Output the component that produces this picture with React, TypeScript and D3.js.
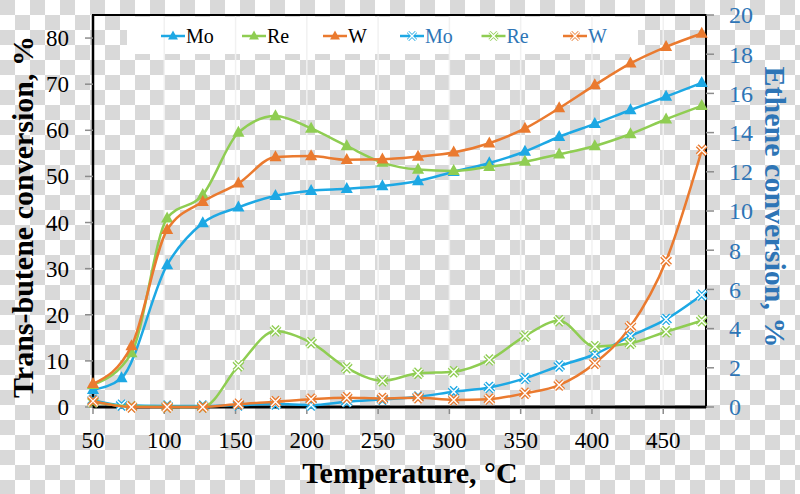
import * as d3 from "d3";

// temperatures (°C); Mo was sampled at 70 instead of 77
const temps = [50, 77, 102, 127, 152, 178, 203, 228, 253, 278, 303, 328, 353, 377, 402, 427, 452, 477];
const moTemps = [50, 70, 102, 127, 152, 178, 203, 228, 253, 278, 303, 328, 353, 377, 402, 427, 452, 477];

// trans-butene conversion, % (left axis)
const moButene = [3.7, 6.3, 30.8, 39.9, 43.3, 45.8, 46.9, 47.3, 47.9, 49.0, 51.0, 52.9, 55.4, 58.6, 61.4, 64.4, 67.3, 70.3];
const reButene = [4.8, 11.7, 40.9, 46.0, 59.5, 63.1, 60.4, 56.6, 53.0, 51.5, 51.2, 52.1, 53.2, 54.8, 56.6, 59.2, 62.4, 65.3];
const wButene = [5.0, 13.2, 38.4, 44.5, 48.5, 54.2, 54.4, 53.6, 53.7, 54.3, 55.2, 57.2, 60.4, 64.8, 69.8, 74.5, 78.1, 81.0];

// ethene conversion, % (right axis)
const moEthene = [0.35, 0.1, 0.05, 0.05, 0.1, 0.15, 0.1, 0.27, 0.39, 0.52, 0.78, 1.0, 1.46, 2.09, 2.69, 3.62, 4.47, 5.71];
const reEthene = [0.25, 0.02, 0, 0, 2.1, 3.88, 3.28, 2.0, 1.34, 1.72, 1.8, 2.4, 3.62, 4.4, 3.08, 3.25, 3.84, 4.4];
const wEthene = [0.3, 0, 0, 0, 0.15, 0.27, 0.4, 0.47, 0.44, 0.47, 0.36, 0.4, 0.7, 1.12, 2.23, 4.1, 7.46, 13.1];

const xTicks = [50, 100, 150, 200, 250, 300, 350, 400, 450];
const catalysts = ["Mo", "Re", "W"];

const BLUE = "#1DA8E4";
const GREEN = "#8FCD52";
const ORANGE = "#EA7A2F";
const AXIS_BLUE = "#2E75B6";
const FONT = "Liberation Serif, DejaVu Serif, serif";

const width = 800;
const height = 494;
const m = { left: 93, right: 706, top: 15, bottom: 407 };

type Pt = [number, number];

const triangle = (s: number) => `M0,${-s * 0.62}L${s * 0.55},${s * 0.38}L${-s * 0.55},${s * 0.38}Z`;
const cross = (s: number) => `M${-s},${-s}L${s},${s}M${-s},${s}L${s},${-s}`;

export default function App() {
  const x = d3.scaleLinear().domain([50, 480]).range([m.left, m.right]);
  const yL = d3.scaleLinear().domain([0, 85]).range([m.bottom, m.top]);
  const yR = d3.scaleLinear().domain([0, 20]).range([m.bottom, m.top]);

  const line = d3.line<Pt>().x((d) => d[0]).y((d) => d[1]).curve(d3.curveMonotoneX);

  const butene = [
    { name: "Mo", color: BLUE, t: moTemps, v: moButene },
    { name: "Re", color: GREEN, t: temps, v: reButene },
    { name: "W", color: ORANGE, t: temps, v: wButene },
  ].map((s) => ({ ...s, pts: s.v.map((v, i) => [x(s.t[i]), yL(v)] as Pt) }));

  const ethene = [
    { name: "Mo", color: BLUE, t: moTemps, v: moEthene },
    { name: "Re", color: GREEN, t: temps, v: reEthene },
    { name: "W", color: ORANGE, t: temps, v: wEthene },
  ].map((s) => ({ ...s, pts: s.v.map((v, i) => [x(s.t[i]), yR(v)] as Pt) }));

  const colorOf = d3.scaleOrdinal<string>().domain(catalysts).range([BLUE, GREEN, ORANGE]);

  // legend positions
  const legA = d3.scalePoint<string>().domain(catalysts).range([173, 335]);
  const legB = d3.scalePoint<string>().domain(catalysts).range([412, 575]);
  const legY = 36;

  return (
    <svg
      width={width}
      height={height}
      viewBox={`0 0 ${width} ${height}`}
      style={{ position: "absolute", left: 0, top: 0 }}
    >
      <defs>
        <pattern id="checker" width={30} height={30} patternUnits="userSpaceOnUse">
          <rect width={30} height={30} fill="#ffffff" />
          <rect x={0} y={0} width={15} height={15} fill="#d9d9d9" />
          <rect x={15} y={15} width={15} height={15} fill="#d9d9d9" />
        </pattern>
      </defs>
      <rect width={width} height={height} fill="url(#checker)" />

      {/* legend box */}
      <rect x={127} y={17} width={511} height={37} fill="#ffffff" />

      {/* vertical gridlines */}
      {xTicks.slice(1).map((t) => (
        <line key={t} x1={x(t)} x2={x(t)} y1={m.top} y2={m.bottom} stroke="#f1f1f1" strokeWidth={1.5} />
      ))}

      {/* frame */}
      <rect x={m.left} y={m.top} width={m.right - m.left} height={m.bottom - m.top} fill="none" stroke="#000" strokeWidth={2} />
      <line x1={m.left} x2={m.right} y1={m.bottom} y2={m.bottom} stroke="#000" strokeWidth={3} />
      <line x1={m.left} x2={m.left} y1={m.top} y2={m.bottom} stroke="#000" strokeWidth={2.5} />

      <g fontFamily={FONT}>
        {/* x axis */}
        {xTicks.map((t) => (
          <g key={t} transform={`translate(${x(t)},0)`}>
            <line y1={m.bottom + 1} y2={m.bottom + 7} stroke="#8c8c8c" strokeWidth={1.5} />
            <text y={448} textAnchor="middle" fontSize={23} fill="#000" fontFamily={FONT}>{t}</text>
          </g>
        ))}
        <text x={410} y={483} textAnchor="middle" fontSize={30} fontWeight="bold" fill="#000" fontFamily={FONT}>
          Temperature, °C
        </text>

        {/* left axis */}
        {yL.ticks(8).map((t) => (
          <g key={t} transform={`translate(0,${yL(t)})`}>
            <line x1={m.left - 8} x2={m.left} stroke="#8c8c8c" strokeWidth={1.5} />
            <text x={69} dy="0.35em" textAnchor="end" fontSize={23} fill="#000" fontFamily={FONT}>{t}</text>
          </g>
        ))}
        <text
          transform={`translate(33,217) rotate(-90)`}
          textAnchor="middle"
          fontSize={30}
          fontWeight="bold"
          fill="#000"
          fontFamily={FONT}
        >
          Trans-butene conversion, %
        </text>

        {/* right axis */}
        {yR.ticks(10).map((t) => (
          <g key={t} transform={`translate(0,${yR(t)})`}>
            <line x1={m.right} x2={m.right + 8} stroke="#8c8c8c" strokeWidth={1.5} />
            <text x={729} dy="0.35em" textAnchor="start" fontSize={24} fill={AXIS_BLUE} fontFamily={FONT}>{t}</text>
          </g>
        ))}
        <text
          transform={`translate(765,207) rotate(90)`}
          textAnchor="middle"
          fontSize={30}
          fontWeight="bold"
          fill={AXIS_BLUE}
          fontFamily={FONT}
        >
          Ethene conversion, %
        </text>
      </g>

      {/* ethene series (crosses) */}
      {ethene.map((s) => (
        <g key={"e" + s.name}>
          <path d={line(s.pts)!} fill="none" stroke={s.color} strokeWidth={2.5} />
          {s.pts.map((p, i) => (
            <g key={i} transform={`translate(${p[0]},${p[1]})`}>
              <path d={cross(4.5)} stroke={s.color} strokeWidth={4} />
              <path d={cross(4.5)} stroke="#fff" strokeWidth={1.4} />
            </g>
          ))}
        </g>
      ))}

      {/* butene series (triangles) */}
      {butene.map((s) => (
        <g key={"b" + s.name}>
          <path d={line(s.pts)!} fill="none" stroke={s.color} strokeWidth={2.5} />
          {s.pts.map((p, i) => (
            <path key={i} d={triangle(11)} transform={`translate(${p[0]},${p[1]})`} fill={s.color} />
          ))}
        </g>
      ))}

      {/* legend */}
      {catalysts.map((c) => (
        <g key={"la" + c} transform={`translate(${legA(c)},${legY})`}>
          <line x1={-12} x2={12} stroke={colorOf(c)} strokeWidth={2.5} />
          <path d={triangle(9)} fill={colorOf(c)} />
          <text x={13} dy="0.35em" fontSize={20} fill="#000" fontFamily={FONT}>{c}</text>
        </g>
      ))}
      {catalysts.map((c) => (
        <g key={"lb" + c} transform={`translate(${legB(c)},${legY})`}>
          <line x1={-12} x2={12} stroke={colorOf(c)} strokeWidth={2.5} />
          <path d={cross(4)} stroke={colorOf(c)} strokeWidth={3} />
          <path d={cross(4)} stroke="#fff" strokeWidth={1.5} />
          <text x={13} dy="0.35em" fontSize={20} fill={AXIS_BLUE} fontFamily={FONT}>{c}</text>
        </g>
      ))}
    </svg>
  );
}
